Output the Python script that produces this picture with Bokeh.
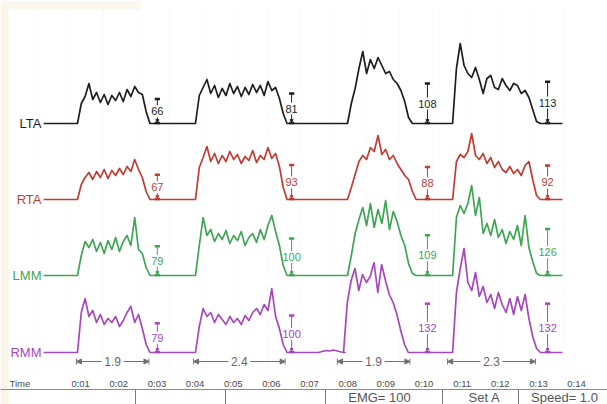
import numpy as np
from bokeh.plotting import figure
from bokeh.models import Range1d, Arrow, NormalHead
from bokeh.embed import file_html
from bokeh.resources import INLINE
from bokeh.core.properties import value

# ---------------- recording data ----------------
channels = ["LTA", "RTA", "LMM", "RMM"]

sample_step = 0.1      # s between envelope samples
record_start = 0.03    # s
record_end = 13.63     # s

# burst onsets (s) and rectified EMG envelope samples (amplitude units)
lta_onsets = [0.917, 4.01, 7.995, 10.75]
lta_bursts = [
    [0, 20, 27, 40, 24, 31, 21, 29, 19, 28, 23, 31, 22, 34, 27, 37, 31, 29, 12, 0],
    [0, 28, 36, 44, 30, 38, 26, 35, 28, 40, 30, 37, 27, 36, 29, 39, 31, 38, 28, 42, 33, 36, 25, 10, 0],
    [0, 20, 35, 55, 72, 50, 64, 55, 66, 58, 50, 52, 44, 40, 33, 22, 6, 0],
    [0, 55, 80, 58, 50, 46, 56, 44, 30, 45, 48, 36, 34, 45, 38, 33, 40, 38, 30, 33, 26, 14, 2, 0],
]

rta_onsets = [0.917, 4.01, 7.995, 10.75]
rta_bursts = [
    [0, 15, 22, 27, 20, 28, 22, 30, 21, 29, 24, 31, 25, 33, 28, 40, 30, 22, 8, 0],
    [0, 32, 42, 53, 38, 46, 36, 44, 38, 48, 40, 45, 36, 43, 39, 49, 37, 44, 40, 52, 41, 46, 33, 12, 0],
    [0, 12, 25, 38, 44, 40, 52, 48, 64, 45, 50, 40, 44, 36, 30, 24, 20, 8, 0],
    [0, 38, 45, 42, 48, 66, 44, 40, 46, 36, 42, 32, 38, 30, 27, 33, 26, 30, 24, 34, 38, 20, 4, 0],
]

lmm_onsets = [0.917, 4.01, 7.995, 10.75]
lmm_bursts = [
    [0, 20, 34, 28, 36, 24, 33, 22, 35, 26, 38, 24, 34, 40, 30, 58, 26, 22, 8, 0],
    [0, 30, 58, 40, 46, 34, 42, 36, 45, 32, 40, 35, 44, 30, 38, 42, 33, 46, 36, 50, 60, 44, 30, 10, 0],
    [0, 20, 42, 56, 68, 50, 72, 48, 66, 52, 75, 46, 64, 54, 40, 30, 12, 2, 0],
    [0, 58, 70, 62, 72, 90, 60, 78, 42, 52, 40, 56, 38, 46, 32, 44, 36, 50, 30, 60, 28, 14, 2, 0],
]

rmm_onsets = [0.917, 4.01, 7.23, 7.89, 10.75]
rmm_bursts = [
    [0, 40, 54, 36, 42, 30, 38, 28, 34, 30, 36, 26, 32, 40, 46, 30, 38, 24, 8, 0],
    [0, 26, 44, 36, 40, 30, 38, 33, 28, 36, 30, 34, 28, 37, 32, 40, 44, 38, 48, 42, 64, 36, 24, 8, 0],
    [0, 1, 2, 1.5, 2.5, 1.5, 0.5, 0],
    [0, 50, 72, 84, 62, 78, 70, 76, 90, 60, 88, 72, 58, 50, 38, 22, 8, 0],
    [0, 60, 84, 104, 70, 62, 80, 56, 66, 50, 58, 44, 60, 48, 40, 54, 38, 56, 42, 58, 34, 16, 4, 0],
]

# per-burst values printed after each burst
marker_times = [3.01, 6.53, 10.09, 13.24]
lta_values = [66, 81, 108, 113]
rta_values = [67, 93, 88, 92]
lmm_values = [79, 100, 109, 126]
rmm_values = [79, 100, 132, 132]

# stride durations (s) measured under the traces
stride_starts = [0.89, 3.96, 7.73, 10.62]
stride_durations = [1.9, 2.4, 1.9, 2.3]

tick_seconds = list(range(1, 15))
tick_labels = ["0:%02d" % s for s in tick_seconds]

footer_fields = ["EMG= 100", "Set A", "Speed= 1.0"]

# ---------------- layout / style ----------------
W, H = 607, 404
PX_PER_S = 38.15
T0_PX = 42.0
TRACE_GAIN = 1.0     # px per amplitude unit
MARK_GAIN = 0.37     # px per printed unit
FONT = value("Liberation Sans")

colors = {"LTA": "#1e1e1e", "RTA": "#c23b33", "LMM": "#3da653", "RMM": "#a548bb"}
baseline = {"LTA": 123, "RTA": 199, "LMM": 275, "RMM": 352}
onsets = {"LTA": lta_onsets, "RTA": rta_onsets, "LMM": lmm_onsets, "RMM": rmm_onsets}
bursts = {"LTA": lta_bursts, "RTA": rta_bursts, "LMM": lmm_bursts, "RMM": rmm_bursts}
values = {"LTA": lta_values, "RTA": rta_values, "LMM": lmm_values, "RMM": rmm_values}


def tx(px):
    """Horizontal page position (px) -> time axis (s)."""
    return (px - T0_PX) / PX_PER_S


def envelope(ons, amps_list):
    t, a = [record_start], [0.0]
    for t0, amps in zip(ons, amps_list):
        for i, v in enumerate(amps):
            t.append(t0 + i * sample_step)
            a.append(v)
    t.append(record_end)
    a.append(0.0)
    return np.array(t), np.array(a, dtype=float)


p = figure(width=W, height=H, x_range=Range1d(tx(0), tx(W)), y_range=Range1d(H, 0),
           output_backend="svg", toolbar_location=None, min_border=0,
           x_axis_type=None, y_axis_type=None, outline_line_color=None,
           background_fill_color="white", border_fill_color="white")
p.grid.visible = False

# paper-coloured margin
p.quad(left=tx(0), right=tx(8), top=0, bottom=H, fill_color="#fbf5e9", line_color=None)
p.quad(left=tx(0), right=tx(140), top=0, bottom=9, fill_color="#fcf7ee", line_color=None)

# faint recorder grid
grid_px = [37 + 32.9 * k for k in range(17)]
p.segment(x0=[tx(g) for g in grid_px], y0=10, x1=[tx(g) for g in grid_px], y1=372,
          line_color="#eeeeee", line_width=1, line_dash="1 3")

for ch in channels:
    col = colors[ch]
    base = baseline[ch]
    t, a = envelope(onsets[ch], bursts[ch])
    p.line(t, base - a * TRACE_GAIN, line_color=col, line_width=1.7, line_join="round")

    p.text(x=[tx(41)], y=[base], text=[ch], text_align="right", text_baseline="middle",
           text_color=col, text_font=FONT, text_font_size="13px")

    # value markers: cap, stems, bottom bar, number
    vals = np.array(values[ch], dtype=float)
    mt = np.array(marker_times)
    h = vals * MARK_GAIN
    top = base - h
    mid = base - h * 0.5
    dx_cap = 2.6 / PX_PER_S
    p.segment(x0=mt - dx_cap, y0=top, x1=mt + dx_cap, y1=top, line_color=col, line_width=2.5)
    up_end = np.maximum(mid - 6, top)
    p.segment(x0=mt, y0=top, x1=mt, y1=up_end, line_color=col, line_width=1)
    p.segment(x0=mt, y0=mid + 6, x1=mt, y1=base - 1, line_color=col, line_width=1)
    p.scatter(mt, base - 3, marker="inverted_triangle", size=3, color=col)
    p.segment(x0=mt - dx_cap, y0=base - 0.5, x1=mt + dx_cap, y1=base - 0.5,
              line_color=col, line_width=2.5)
    p.text(x=mt, y=mid, text=[str(v) for v in values[ch]], text_align="center",
           text_baseline="middle", text_color=col, text_font=FONT, text_font_size="11px")

# stride duration annotations
row_y = 361
gap = 11 / PX_PER_S
tick_col = "#6f6f6f"
for s, d in zip(stride_starts, stride_durations):
    e = s + d
    c = s + d / 2
    p.add_layout(Arrow(end=NormalHead(size=5, fill_color=tick_col, line_color=tick_col),
                       x_start=c - gap, y_start=row_y, x_end=s, y_end=row_y,
                       line_color=tick_col, line_width=1))
    p.add_layout(Arrow(end=NormalHead(size=5, fill_color=tick_col, line_color=tick_col),
                       x_start=c + gap, y_start=row_y, x_end=e, y_end=row_y,
                       line_color=tick_col, line_width=1))
    p.segment(x0=[s, e], y0=row_y - 3, x1=[s, e], y1=row_y + 3, line_color=tick_col, line_width=1)
    p.text(x=[c], y=[row_y], text=["%.1f" % d], text_align="center", text_baseline="middle",
           text_color="#666666", text_font=FONT, text_font_size="12px")

# time ruler
p.text(x=tick_seconds, y=383, text=tick_labels, text_align="center", text_baseline="middle",
       text_color="#4a4a4a", text_font=FONT, text_font_size="9.5px")
p.text(x=[tx(9)], y=[383], text=["Time"], text_align="left", text_baseline="middle",
       text_color="#4a4a4a", text_font=FONT, text_font_size="9.5px")
p.segment(x0=[tx(0)], y0=[389], x1=[tx(W)], y1=[389], line_color="#8a8a8a", line_width=1)

# status bar
sep_px = [135, 225, 325, 442, 518]
p.segment(x0=[tx(x) for x in sep_px], y0=389, x1=[tx(x) for x in sep_px], y1=H,
          line_color="#7a7a7a", line_width=1)
field_px = [379, 484, 564]
p.text(x=[tx(x) for x in field_px], y=397, text=footer_fields, text_align="center",
       text_baseline="middle", text_color="#555555", text_font=FONT, text_font_size="13px")

open("out.html", "w").write(file_html(p, INLINE))
